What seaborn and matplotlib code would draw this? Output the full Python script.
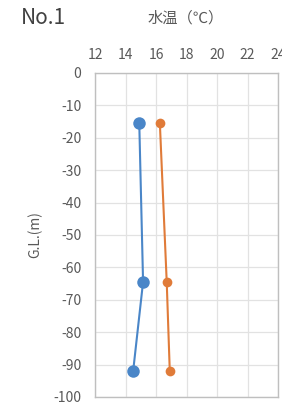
import matplotlib
matplotlib.use("Agg")
import matplotlib.pyplot as plt
import seaborn as sns
import pandas as pd

# ── Data ──────────────────────────────────────────────────────────────────────
depth = [-15.5, -64.5, -92.0]
temp_a = [14.9, 15.15, 14.5]     # blue series
temp_b = [16.25, 16.7, 16.9]     # orange series
x_ticks = [12, 14, 16, 18, 20, 22, 24]
y_ticks = [0, -10, -20, -30, -40, -50, -60, -70, -80, -90, -100]

sns.set_theme(style="white")
plt.rcParams['font.family'] = ['Noto Sans CJK JP', 'DejaVu Sans']
plt.rcParams['axes.unicode_minus'] = False

df_a = pd.DataFrame({"temp": temp_a, "depth": depth})
df_b = pd.DataFrame({"temp": temp_b, "depth": depth})

fig = plt.figure(figsize=(2.82, 4.05), dpi=100)
ax = fig.add_axes([0.337, 0.020, 0.649, 0.800])

txt = "#595959"
sns.lineplot(data=df_a, x="temp", y="depth", sort=False, ax=ax, color="#4a86c8",
             linewidth=1.5, marker="o", markersize=9, markeredgewidth=0, zorder=3)
sns.lineplot(data=df_b, x="temp", y="depth", sort=False, ax=ax, color="#e07b39",
             linewidth=1.5, marker="o", markersize=7, markeredgewidth=0, zorder=3)

ax.set_xlim(12, 24)
ax.set_ylim(-100, 0)
ax.set_xticks(x_ticks)
ax.set_yticks(y_ticks)
ax.xaxis.tick_top()
ax.tick_params(axis="x", length=0, labelsize=10, labelcolor=txt, pad=8)
ax.tick_params(axis="y", length=0, labelsize=10, labelcolor=txt, pad=10)
ax.grid(True, color="#e2e2e2", linewidth=0.9)
for s in ax.spines.values():
    s.set_edgecolor("#bfbfbf")
    s.set_linewidth(1.0)
ax.set_xlabel("")
ax.set_ylabel("G.L.(m)", color=txt, fontsize=10, labelpad=8)

fig.text(0.075, 0.955, "No.1", fontsize=15, color="#404040", va="center")
fig.text(0.66, 0.955, "水温（℃）", fontsize=11, color=txt, va="center", ha="center")

fig.savefig("out.png", dpi=100)
